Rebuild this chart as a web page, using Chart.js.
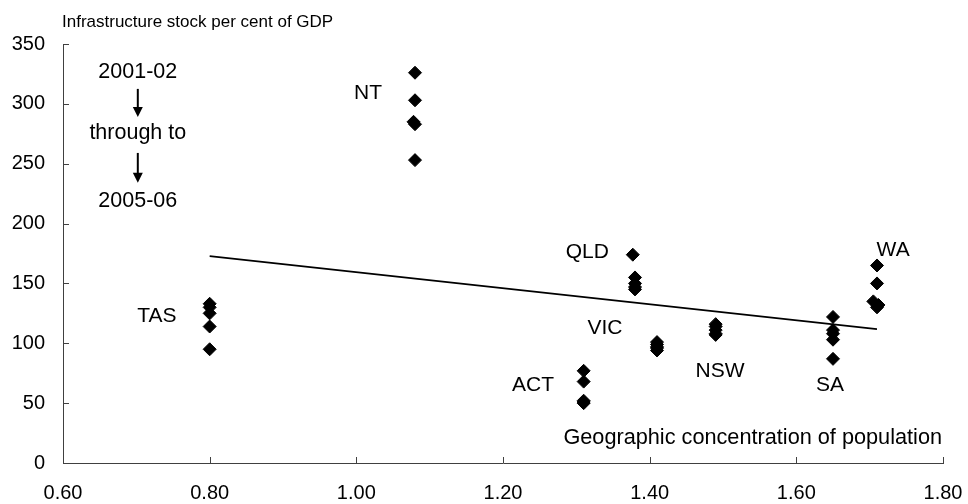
<!DOCTYPE html>
<html>
<head>
<meta charset="utf-8">
<script src="https://cdn.jsdelivr.net/npm/chart.js@4"></script>
<style>
  html, body { margin: 0; padding: 0; background: #ffffff; }
  #wrap { width: 968px; height: 504px; position: relative; }
</style>
</head>
<body>
<div id="wrap"><canvas id="chart"></canvas></div>
<script>
// Axis ticks
const xTickValues = [0.6, 0.8, 1.0, 1.2, 1.4, 1.6, 1.8];
const yTickValues = [0, 50, 100, 150, 200, 250, 300, 350];

// Years shown for each state (top of each column is the earliest year)
const years = ['2001-02', '2002-03', '2003-04', '2004-05', '2005-06'];

// Geographic concentration of population, by state and year
const tasConc = [0.80, 0.80, 0.80, 0.80, 0.80];
const ntConc  = [1.08, 1.08, 1.078, 1.08, 1.08];
const actConc = [1.31, 1.31, 1.31, 1.31, 1.31];
const qldConc = [1.377, 1.38, 1.38, 1.38, 1.38];
const vicConc = [1.41, 1.41, 1.41, 1.41, 1.41];
const nswConc = [1.49, 1.49, 1.49, 1.49, 1.49];
const saConc  = [1.65, 1.65, 1.65, 1.65, 1.65];
const waConc  = [1.71, 1.71, 1.705, 1.712, 1.71];

// Infrastructure stock, per cent of GDP, by state and year
const tasStock = [133, 130, 125, 114, 95];
const ntStock  = [326, 303, 285, 283, 253];
const actStock = [77, 68, 52, 51, 50];
const qldStock = [174, 155, 150, 147, 145];
const vicStock = [101, 99, 97, 96, 94];
const nswStock = [116, 114, 111, 108, 107];
const saStock  = [122, 111, 108, 103, 87];
const waStock  = [165, 150, 135, 132, 130];

// Fitted trend line end points
const trendConc  = [0.80, 1.71];
const trendStock = [172.8, 111.8];

// State names and where their labels sit (in axis units)
const stateNames  = ['TAS', 'NT', 'ACT', 'QLD', 'VIC', 'NSW', 'SA', 'WA'];
const labelConc   = [0.728, 1.016, 1.241, 1.315, 1.339, 1.496, 1.646, 1.732];
const labelStock  = [122.7, 309.3, 65, 176, 112.7, 76.7, 65, 178];

// Year-range note and its arrows (in axis units)
const noteTexts = ['2001-02', 'through to', '2005-06'];
const noteConc  = 0.702;
const noteStock = [326.8, 275.8, 218.8];
const arrowConc = 0.702;
const arrowFrom = [312.5, 259];
const arrowTo   = [289.1, 234];

const FONT = '"Liberation Sans", Arial, sans-serif';

const concSets  = [tasConc, ntConc, actConc, qldConc, vicConc, nswConc, saConc, waConc];
const stockSets = [tasStock, ntStock, actStock, qldStock, vicStock, nswStock, saStock, waStock];

const stateDatasets = stateNames.map((name, i) => ({
  type: 'scatter',
  label: name,
  data: concSets[i].map((c, j) => ({ x: c, y: stockSets[i][j] })),
  pointStyle: 'rectRot',
  pointRadius: 6.5,
  pointBackgroundColor: '#000000',
  pointBorderColor: '#000000',
  pointBorderWidth: 1,
  order: 1
}));

const trendDataset = {
  type: 'line',
  label: 'Trend',
  data: trendConc.map((c, i) => ({ x: c, y: trendStock[i] })),
  borderColor: '#000000',
  borderWidth: 1.6,
  pointRadius: 0,
  fill: false,
  order: 2
};

// Inward tick marks, state labels, year note, arrows and axis titles
const decorations = {
  id: 'decorations',
  afterDraw(chart) {
    const ctx = chart.ctx;
    const xs = chart.scales.x, ys = chart.scales.y;
    const area = chart.chartArea;
    ctx.save();

    // inward ticks
    ctx.strokeStyle = '#404040';
    ctx.lineWidth = 1;
    ctx.beginPath();
    xTickValues.forEach(v => {
      const px = Math.round(xs.getPixelForValue(v)) + 0.5;
      ctx.moveTo(px, area.bottom);
      ctx.lineTo(px, area.bottom - 6);
    });
    yTickValues.forEach(v => {
      const py = Math.round(ys.getPixelForValue(v)) + 0.5;
      ctx.moveTo(area.left, py);
      ctx.lineTo(area.left + 6, py);
    });
    ctx.stroke();

    ctx.fillStyle = '#000000';
    ctx.textAlign = 'center';
    ctx.textBaseline = 'middle';

    // state labels
    ctx.font = '21px ' + FONT;
    stateNames.forEach((name, i) => {
      ctx.fillText(name, xs.getPixelForValue(labelConc[i]), ys.getPixelForValue(labelStock[i]));
    });

    // year note
    ctx.font = '21.5px ' + FONT;
    noteTexts.forEach((t, i) => {
      ctx.fillText(t, xs.getPixelForValue(noteConc), ys.getPixelForValue(noteStock[i]));
    });

    // arrows
    ctx.strokeStyle = '#000000';
    ctx.lineWidth = 2;
    arrowFrom.forEach((from, i) => {
      const ax = xs.getPixelForValue(arrowConc);
      const y0 = ys.getPixelForValue(from);
      const y1 = ys.getPixelForValue(arrowTo[i]);
      ctx.beginPath();
      ctx.moveTo(ax, y0);
      ctx.lineTo(ax, y1 - 8);
      ctx.stroke();
      ctx.beginPath();
      ctx.moveTo(ax - 5, y1 - 10);
      ctx.lineTo(ax + 5, y1 - 10);
      ctx.lineTo(ax, y1);
      ctx.closePath();
      ctx.fill();
    });

    // axis titles
    ctx.font = '17px ' + FONT;
    ctx.textAlign = 'left';
    ctx.fillText('Infrastructure stock per cent of GDP', area.left - 1, 22);
    ctx.font = '21.7px ' + FONT;
    ctx.textAlign = 'right';
    ctx.fillText('Geographic concentration of population', area.right - 1, 438);

    ctx.restore();
  }
};

new Chart(document.getElementById('chart'), {
  data: { datasets: [trendDataset, ...stateDatasets] },
  options: {
    responsive: true,
    maintainAspectRatio: false,
    animation: false,
    layout: { padding: { top: 44, right: 25, bottom: 0, left: 0 } },
    plugins: { legend: { display: false }, tooltip: { enabled: false } },
    scales: {
      x: {
        type: 'linear',
        min: 0.6,
        max: 1.8,
        afterBuildTicks: s => { s.ticks = xTickValues.map(v => ({ value: v })); },
        afterFit: s => { s.height = 41; s.paddingLeft = 0; s.paddingRight = 0; },
        grid: { display: false, drawTicks: false },
        border: { display: true, color: '#404040', width: 1 },
        ticks: {
          color: '#000000',
          font: { family: FONT, size: 20 },
          padding: 18,
          maxRotation: 0,
          callback: v => Number(v).toFixed(2)
        }
      },
      y: {
        type: 'linear',
        min: 0,
        max: 350,
        afterBuildTicks: s => { s.ticks = yTickValues.map(v => ({ value: v })); },
        afterFit: s => { s.width = 63; s.paddingTop = 0; s.paddingBottom = 0; },
        grid: { display: false, drawTicks: false },
        border: { display: true, color: '#404040', width: 1 },
        ticks: {
          color: '#000000',
          font: { family: FONT, size: 20 },
          padding: 18
        }
      }
    }
  },
  plugins: [decorations]
});
</script>
</body>
</html>
